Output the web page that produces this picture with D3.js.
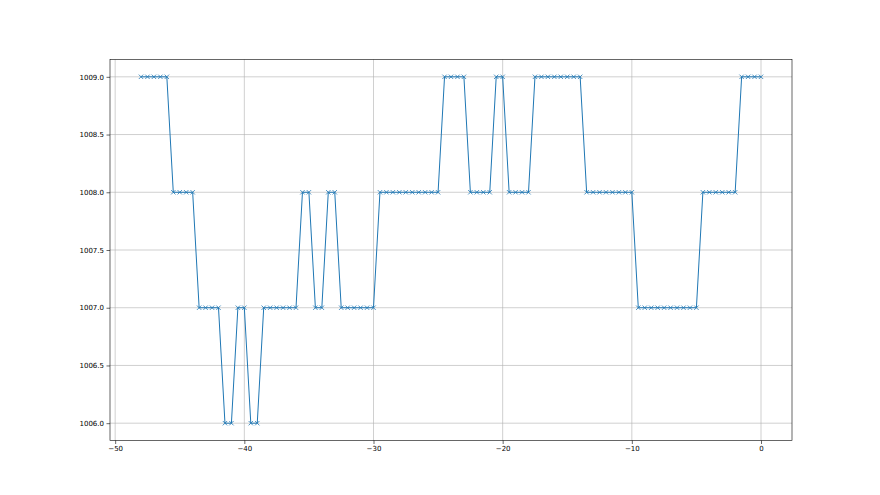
<!DOCTYPE html>
<html>
<head>
<meta charset="utf-8">
<script src="https://cdn.jsdelivr.net/npm/d3@7"></script>
<style>
  body { margin: 0; background: #fff; }
  svg text { font-family: "DejaVu Sans", sans-serif; font-size: 7px; fill: #000; }
</style>
</head>
<body>
<svg id="chart"></svg>
<script>
// time offsets (hours), half-hour steps from -48 to 0
const xs = d3.range(-48, 0.01, 0.5);

// pressure readings, one per step
const pressure = [
    1009, 1009, 1009, 1009, 1009,
    1008, 1008, 1008, 1008,
    1007, 1007, 1007, 1007,
    1006, 1006,
    1007, 1007,
    1006, 1006,
    1007, 1007, 1007, 1007, 1007, 1007,
    1008, 1008,
    1007, 1007,
    1008, 1008,
    1007, 1007, 1007, 1007, 1007, 1007,
    1008, 1008, 1008, 1008, 1008, 1008, 1008, 1008, 1008, 1008,
    1009, 1009, 1009, 1009,
    1008, 1008, 1008, 1008,
    1009, 1009,
    1008, 1008, 1008, 1008,
    1009, 1009, 1009, 1009, 1009, 1009, 1009, 1009,
    1008, 1008, 1008, 1008, 1008, 1008, 1008, 1008,
    1007, 1007, 1007, 1007, 1007, 1007, 1007, 1007, 1007, 1007,
    1008, 1008, 1008, 1008, 1008, 1008,
    1009, 1009, 1009, 1009
];

const xTicks = [-50, -40, -30, -20, -10, 0];
const yTicks = [1006.0, 1006.5, 1007.0, 1007.5, 1008.0, 1008.5, 1009.0];

const data = xs.map((x, i) => ({ x: x, y: pressure[i] }));

const width = 880, height = 495;
const margin = { top: 59.5, right: 88, bottom: 54.5, left: 110 };
const innerW = width - margin.left - margin.right;
const innerH = height - margin.top - margin.bottom;

const svg = d3.select("#chart").attr("width", width).attr("height", height);

// matplotlib style 5% padding
const xPad = (d3.max(xs) - d3.min(xs)) * 0.05;
const yPad = (d3.max(pressure) - d3.min(pressure)) * 0.05;

const x = d3.scaleLinear()
    .domain([d3.min(xs) - xPad, d3.max(xs) + xPad])
    .range([0, innerW]);
const y = d3.scaleLinear()
    .domain([d3.min(pressure) - yPad, d3.max(pressure) + yPad])
    .range([innerH, 0]);

const g = svg.append("g")
    .attr("transform", "translate(" + margin.left + "," + margin.top + ")");

// grid
g.append("g").selectAll("line").data(xTicks).join("line")
    .attr("x1", d => x(d)).attr("x2", d => x(d))
    .attr("y1", 0).attr("y2", innerH)
    .attr("stroke", "#b0b0b0").attr("stroke-width", 0.6);
g.append("g").selectAll("line").data(yTicks).join("line")
    .attr("x1", 0).attr("x2", innerW)
    .attr("y1", d => y(d)).attr("y2", d => y(d))
    .attr("stroke", "#b0b0b0").attr("stroke-width", 0.6);

// line
const line = d3.line().x(d => x(d.x)).y(d => y(d.y));
g.append("path")
    .datum(data)
    .attr("fill", "none")
    .attr("stroke", "#1f77b4")
    .attr("stroke-width", 1)
    .attr("d", line);

// x markers
const m = 2.2;
g.append("g").selectAll("path").data(data).join("path")
    .attr("d", d => {
        const cx = x(d.x), cy = y(d.y);
        return "M" + (cx - m) + "," + (cy - m) + "L" + (cx + m) + "," + (cy + m) +
               "M" + (cx - m) + "," + (cy + m) + "L" + (cx + m) + "," + (cy - m);
    })
    .attr("stroke", "#1f77b4")
    .attr("stroke-width", 0.8)
    .attr("fill", "none");

// axes
const xAxis = g.append("g")
    .attr("transform", "translate(0," + innerH + ")")
    .call(d3.axisBottom(x).tickValues(xTicks).tickSize(3.5).tickPadding(2.5).tickFormat(d3.format("d")));
const yAxis = g.append("g")
    .call(d3.axisLeft(y).tickValues(yTicks).tickSize(3.5).tickPadding(2.5).tickFormat(d3.format(".1f")));

[xAxis, yAxis].forEach(a => {
    a.select(".domain").remove();
    a.selectAll(".tick line").attr("stroke", "#000").attr("stroke-width", 0.6);
    a.selectAll("text").attr("font-size", 7).attr("font-family", "DejaVu Sans");
});
xAxis.selectAll("text").text(d => d < 0 ? "\u2212" + Math.abs(d) : d);

// frame
g.append("rect")
    .attr("width", innerW).attr("height", innerH)
    .attr("fill", "none")
    .attr("stroke", "#000")
    .attr("stroke-width", 0.6);
</script>
</body>
</html>
